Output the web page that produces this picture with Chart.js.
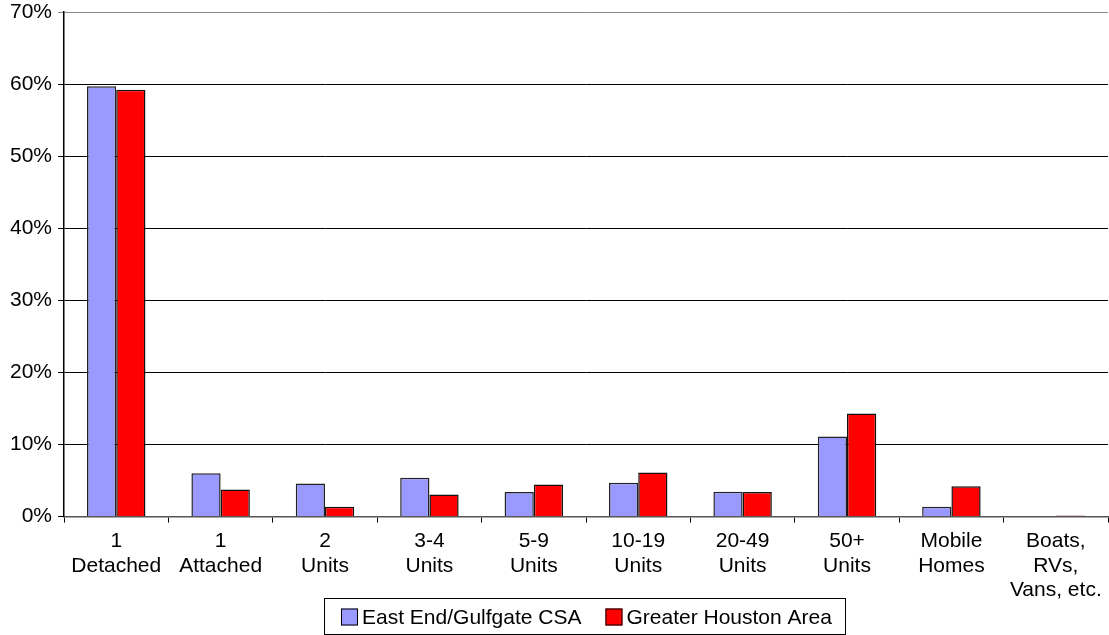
<!DOCTYPE html>
<html>
<head>
<meta charset="utf-8">
<script src="https://cdn.jsdelivr.net/npm/chart.js@4/dist/chart.umd.min.js"></script>
<style>
  html, body { margin: 0; padding: 0; background: #fff; }
  #wrap { width: 1109px; height: 635px; }
</style>
</head>
<body>
<div id="wrap"><canvas id="chart"></canvas></div>
<script>
// housing type categories (multi-line labels)
const categories = [
    ['1', 'Detached'], ['1', 'Attached'], ['2', 'Units'], ['3-4', 'Units'], ['5-9', 'Units'],
    ['10-19', 'Units'], ['20-49', 'Units'], ['50+', 'Units'], ['Mobile', 'Homes'], ['Boats,', 'RVs,', 'Vans, etc.']
];
const eastEnd = [59.7, 6.0, 4.6, 5.4, 3.4, 4.7, 3.45, 11.1, 1.35, 0];
const houston = [59.2, 3.75, 1.35, 3.05, 4.45, 6.1, 3.4, 14.3, 4.2, 0.15];
const yTicks = [0, 10, 20, 30, 40, 50, 60, 70];

const FONT = 'Liberation Sans, Arial, sans-serif';

// framed legend drawn under the axis labels (a bit right of centre, like the original)
const boxedLegend = {
    id: 'boxedLegend',
    afterDraw(chart) {
        const ctx = chart.ctx;
        const sets = chart.data.datasets;
        ctx.save();
        ctx.font = '21px ' + FONT;
        ctx.textBaseline = 'middle';
        const sq = 17, gap = 4, between = 24, padL = 17, padR = 13;
        const widths = sets.map(ds => ctx.measureText(ds.label).width);
        let total = padL + padR + between * (sets.length - 1);
        widths.forEach(w => { total += sq + gap + w; });
        const left = Math.round(chart.width / 2 + 30 - total / 2);
        const top = chart.height - 37;
        ctx.strokeStyle = '#000';
        ctx.lineWidth = 1;
        ctx.strokeRect(left + 0.5, top + 0.5, Math.round(total), 36);
        let x = left + padL;
        const midY = top + 19;
        sets.forEach((ds, i) => {
            ctx.fillStyle = ds.backgroundColor;
            ctx.fillRect(x, midY - sq / 2, sq, sq);
            ctx.strokeStyle = '#000';
            ctx.strokeRect(x + 0.5, midY - sq / 2 + 0.5, sq - 1, sq - 1);
            x += sq + gap;
            ctx.fillStyle = '#000';
            ctx.fillText(ds.label, x, midY + 1);
            x += widths[i] + between;
        });
        ctx.restore();
    }
};

const ctx = document.getElementById('chart').getContext('2d');
new Chart(ctx, {
    type: 'bar',
    data: {
        labels: categories,
        datasets: [
            { label: 'East End/Gulfgate CSA', data: eastEnd, backgroundColor: '#9999FF', borderColor: '#222', borderWidth: 1.5 },
            { label: 'Greater Houston Area', data: houston, backgroundColor: '#FF0000', borderColor: '#111', borderWidth: 1.5 }
        ]
    },
    options: {
        responsive: true,
        maintainAspectRatio: false,
        animation: false,
        categoryPercentage: 0.56,
        barPercentage: 1.0,
        layout: { padding: { top: 0, right: 1, left: 4, bottom: 26 } },
        scales: {
            x: {
                grid: { offset: true, drawOnChartArea: false, color: '#000', tickLength: 6, tickWidth: 1 },
                border: { color: '#555', width: 1.5 },
                ticks: { color: '#000', maxRotation: 0, autoSkip: false, padding: 7,
                    font: { family: FONT, size: 21, lineHeight: 1.15 } }
            },
            y: {
                min: 0,
                max: 70,
                afterBuildTicks: (axis) => { axis.ticks = yTicks.map(v => ({ value: v })); },
                afterFit: (s) => { s.paddingTop = 12; s.paddingBottom = 0; },
                grid: {
                    color: (c) => c.tick && c.tick.value === 70 ? '#888' : '#000',
                    lineWidth: 1,
                    tickLength: 6
                },
                border: { color: '#000', width: 1.5 },
                ticks: { color: '#000', padding: 6, callback: (v) => v + '%',
                    font: { family: FONT, size: 21 } }
            }
        },
        plugins: {
            legend: { display: false },
            tooltip: { enabled: false }
        }
    },
    plugins: [boxedLegend]
});
</script>
</body>
</html>
